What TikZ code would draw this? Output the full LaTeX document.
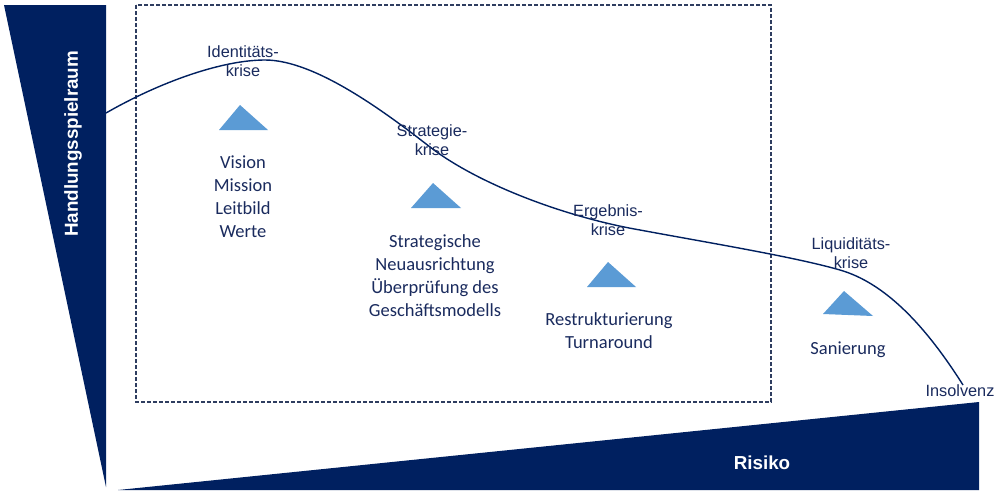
\documentclass[tikz,border=0pt]{standalone}
\usepackage{fontspec}
\setmainfont{Liberation Sans}
\newfontfamily\calibri{Carlito}
\definecolor{navy}{HTML}{002060}
\definecolor{triblue}{HTML}{5B9BD5}
\definecolor{txt}{HTML}{1A2B5E}
\definecolor{dashc}{HTML}{2E3D60}
\begin{document}
\begin{tikzpicture}[x=1pt,y=-1pt,
  crisis/.style={align=center, text=txt, font=\fontsize{16.3}{19}\selectfont, inner sep=0pt},
  item/.style={align=center, text=txt, font=\calibri\fontsize{18.5}{23}\selectfont, inner sep=0pt},
  axislabel/.style={text=white, font=\bfseries\fontsize{18.8}{22}\selectfont, inner sep=0pt},
  wedge/.style={fill=navy, draw=none},
  tristyle/.style={fill=triblue, draw=none},
  frame/.style={draw=dashc, line width=1.1pt, dash pattern=on 4pt off 2pt},
  curve/.style={draw=navy, line width=1.4pt}]
\useasboundingbox (0,0) rectangle (1000,496);
\fill[white] (0,0) rectangle (1000,496);
% wedges
\path[wedge] (4,5) -- (106,5) -- (106,487) -- cycle;
\path[wedge] (118,490) -- (979,402) -- (979,490) -- cycle;
% dashed frame
\draw[frame] (136,5) rectangle (771,402);
% curve
\draw[curve] (106,113) .. controls (160,82) and (222,60) .. (265,60)
  .. controls (315,60) and (385,112) .. (430,147)
  .. controls (478,184) and (565,217) .. (640,230)
  .. controls (710,243) and (795,257) .. (840,270)
  .. controls (885,283) and (925,325) .. (963,385);
% triangles
\path[tristyle] (219,130) -- (240,105) -- (268,130) -- cycle;
\path[tristyle] (411,208) -- (433,183) -- (461,208) -- cycle;
\path[tristyle] (587,287) -- (608,262) -- (636,287) -- cycle;
\path[tristyle] (823,314) -- (844,291) -- (873,316) -- cycle;
% labels
\node[axislabel, rotate=90] (hsr) at (73,144) {Handlungsspielraum};
\node[axislabel] (risiko) at (762,463) {Risiko};
\node[crisis] (k1) at (243,61) {Identitäts-\\krise};
\node[crisis] (k2) at (432,140) {Strategie-\\krise};
\node[crisis] (k3) at (608,220) {Ergebnis-\\krise};
\node[crisis] (k4) at (851,253) {Liquiditäts-\\krise};
\node[crisis] (k5) at (960,391) {Insolvenz};
\node[item] (m1) at (243,197) {Vision\\Mission\\Leitbild\\Werte};
\node[item] (m2) at (435,276) {Strategische\\Neuausrichtung\\Überprüfung des\\Geschäftsmodells};
\node[item] (m3) at (609,331) {Restrukturierung\\Turnaround};
\node[item] (m4) at (848,350) {Sanierung};
\end{tikzpicture}
\end{document}
